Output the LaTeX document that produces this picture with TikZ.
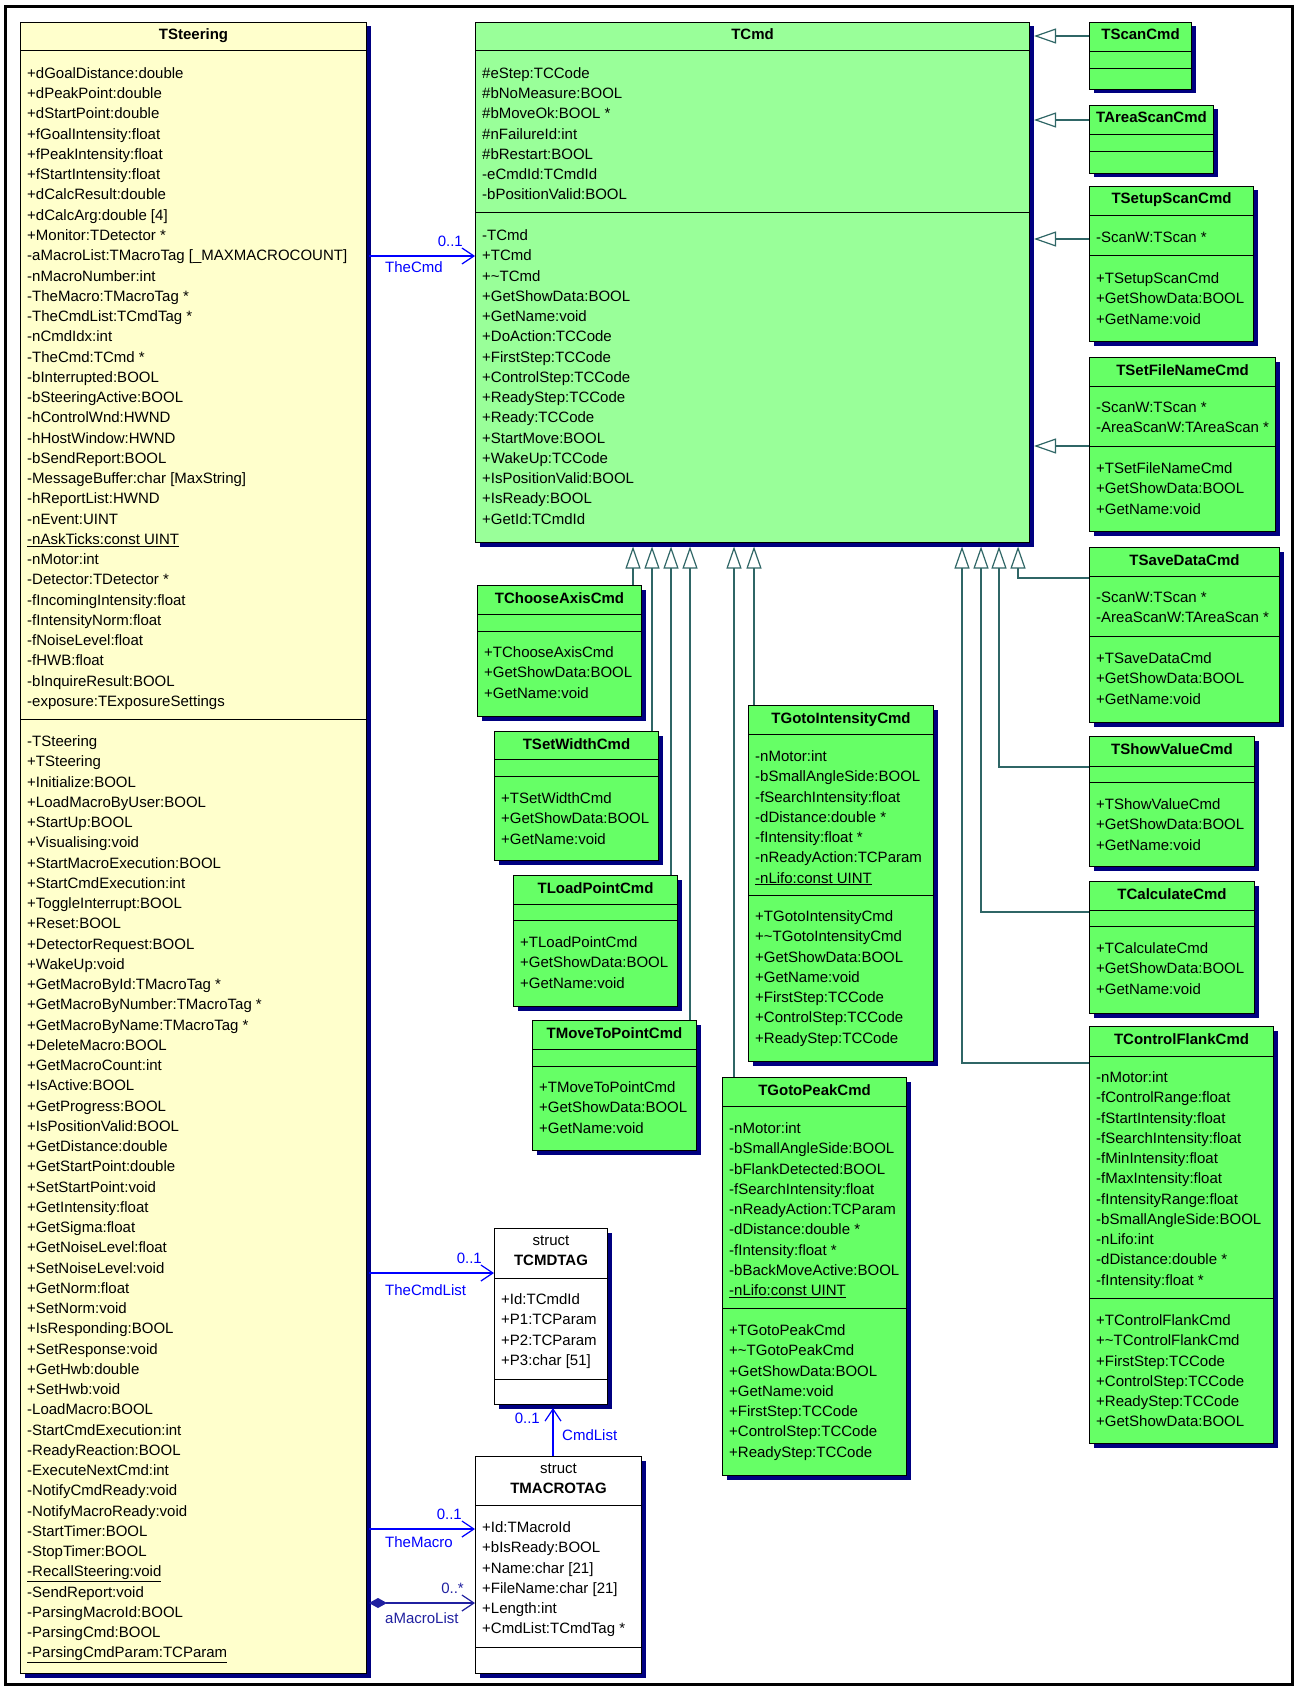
\documentclass[tikz,border=0pt]{standalone}
\usepackage{fontspec}
\setmainfont{Liberation Sans}
\usetikzlibrary{arrows.meta,shadows}

\definecolor{steeryellow}{HTML}{FFFFCC}
\definecolor{cmdgreen}{HTML}{99FF99}
\definecolor{subgreen}{HTML}{66FF66}
\definecolor{shadownavy}{HTML}{000080}
\definecolor{genteal}{HTML}{2F6666}
\definecolor{assocblue}{HTML}{0000FF}
\definecolor{compblue}{HTML}{2020A0}

% class box: name, x, y, width, height, fill, header line, attribute line
\newcommand{\umlclass}[8]{%
  \node[classbox, fill=#6, minimum width=#4, minimum height=#5] (#1) at (#2,#3) {};
  \draw[sepline] ([yshift=-#7pt]#1.north west) -- ([yshift=-#7pt]#1.north east);
  \draw[sepline] ([yshift=-#8pt]#1.north west) -- ([yshift=-#8pt]#1.north east);
}
\newcommand{\umltitle}[2]{\node[title] (#1-t) at ([yshift=-18pt]#1.north) {#2};}
\newcommand{\umlstruct}[2]{%
  \node[member, anchor=base] (#1-s) at ([yshift=-17.5pt]#1.north) {struct};
  \node[title] (#1-t) at ([yshift=-37.5pt]#1.north) {#2};
}
% member rows: prefix, x, y of first row, list
\newcommand{\members}[4]{%
  \foreach \memb [count=\rr from 0] in {#4}
    \node[member] (#1-\rr) at (#2,{#3+5.5+\rr*20.25}) {\memb};
}

\begin{document}
\begin{tikzpicture}[x=1pt, y=-1pt,
    classbox/.style={draw, line width=1pt, rectangle, anchor=north west, inner sep=0pt,
                     drop shadow={shadow xshift=4pt, shadow yshift=-4pt, fill=shadownavy, opacity=1}},
    sepline/.style={line width=1pt},
    member/.style={anchor=base west, inner sep=0pt, font=\fontsize{15}{18}\selectfont},
    title/.style={anchor=base, inner sep=0pt, font=\fontsize{15}{18}\selectfont\bfseries},
    gen/.style={draw=genteal, line width=1.2pt,
                -{Triangle[open, length=22pt, width=15pt, line width=1.2pt]}},
    assoc/.style={draw=assocblue, line width=1.2pt,
                  -{Straight Barb[length=12pt, width=16pt, line width=1.2pt]}},
    compo/.style={draw=compblue, line width=1.2pt,
                  {Diamond[length=18pt, width=10pt]}-{Straight Barb[length=12pt, width=16pt, line width=1.2pt]}},
    alabel/.style={inner sep=0pt, text=assocblue, font=\fontsize{15}{18}\selectfont}]
    \useasboundingbox (0,0) rectangle (1298,1688);
    \draw[line width=3pt] (5,7) rectangle (1292,1684);

    % classes
    \umlclass{tsteering}{20}{22}{346}{1651}{steeryellow}{29}{697}
    \umlclass{tcmd}{475}{22}{554}{520}{cmdgreen}{29}{191}
    \umlclass{tscan}{1089}{22}{102}{67}{subgreen}{30}{47}
    \umlclass{tareascan}{1089}{105}{124}{68}{subgreen}{30}{47}
    \umlclass{tsetupscan}{1089}{186}{164}{155}{subgreen}{30}{70}
    \umlclass{tsetfilename}{1089}{357}{186}{174}{subgreen}{29}{89}
    \umlclass{tsavedata}{1089}{547}{190}{175}{subgreen}{29}{89}
    \umlclass{tshowvalue}{1089}{736}{165}{130}{subgreen}{30}{46}
    \umlclass{tcalculate}{1089}{881}{165}{132}{subgreen}{29}{45}
    \umlclass{tcontrolflank}{1089}{1026}{184}{417}{subgreen}{30}{272}
    \umlclass{tchooseaxis}{477}{585}{164}{131}{subgreen}{29}{46}
    \umlclass{tsetwidth}{494}{731}{164}{129}{subgreen}{28}{45}
    \umlclass{tloadpoint}{513}{875}{164}{131}{subgreen}{29}{45}
    \umlclass{tmovetopoint}{532}{1020}{164}{130}{subgreen}{29}{46}
    \umlclass{tgotointensity}{748}{705}{185}{356}{subgreen}{29}{190}
    \umlclass{tgotopeak}{722}{1077}{184}{398}{subgreen}{29}{231}
    \umlclass{tcmdtag}{494}{1228}{113}{176}{white}{50}{151}
    \umlclass{tmacrotag}{475}{1456}{166}{217}{white}{49}{191}

    % titles
    \umltitle{tsteering}{TSteering}
    \umltitle{tcmd}{TCmd}
    \umltitle{tscan}{TScanCmd}
    \umltitle{tareascan}{TAreaScanCmd}
    \umltitle{tsetupscan}{TSetupScanCmd}
    \umltitle{tsetfilename}{TSetFileNameCmd}
    \umltitle{tsavedata}{TSaveDataCmd}
    \umltitle{tshowvalue}{TShowValueCmd}
    \umltitle{tcalculate}{TCalculateCmd}
    \umltitle{tcontrolflank}{TControlFlankCmd}
    \umltitle{tchooseaxis}{TChooseAxisCmd}
    \umltitle{tsetwidth}{TSetWidthCmd}
    \umltitle{tloadpoint}{TLoadPointCmd}
    \umltitle{tmovetopoint}{TMoveToPointCmd}
    \umltitle{tgotointensity}{TGotoIntensityCmd}
    \umltitle{tgotopeak}{TGotoPeakCmd}
    \umlstruct{tcmdtag}{TCMDTAG}
    \umlstruct{tmacrotag}{TMACROTAG}

    % TSteering
    \members{tsteering-a}{27}{73}{+dGoalDistance:double, +dPeakPoint:double, +dStartPoint:double,
      +fGoalIntensity:float, +fPeakIntensity:float, +fStartIntensity:float, +dCalcResult:double,
      +dCalcArg:double [4], +Monitor:TDetector *, -aMacroList:TMacroTag [\_MAXMACROCOUNT],
      -nMacroNumber:int, -TheMacro:TMacroTag *, -TheCmdList:TCmdTag *, -nCmdIdx:int, -TheCmd:TCmd *,
      -bInterrupted:BOOL, -bSteeringActive:BOOL, -hControlWnd:HWND, -hHostWindow:HWND,
      -bSendReport:BOOL, -MessageBuffer:char [MaxString], -hReportList:HWND, -nEvent:UINT,
      \underline{-nAskTicks:const UINT}, -nMotor:int, -Detector:TDetector *, -fIncomingIntensity:float,
      -fIntensityNorm:float, -fNoiseLevel:float, -fHWB:float, -bInquireResult:BOOL,
      -exposure:TExposureSettings}
    \members{tsteering-o}{27}{741}{-TSteering, +TSteering, +Initialize:BOOL, +LoadMacroByUser:BOOL,
      +StartUp:BOOL, +Visualising:void, +StartMacroExecution:BOOL, +StartCmdExecution:int,
      +ToggleInterrupt:BOOL, +Reset:BOOL, +DetectorRequest:BOOL, +WakeUp:void,
      +GetMacroById:TMacroTag *, +GetMacroByNumber:TMacroTag *, +GetMacroByName:TMacroTag *,
      +DeleteMacro:BOOL, +GetMacroCount:int, +IsActive:BOOL, +GetProgress:BOOL,
      +IsPositionValid:BOOL, +GetDistance:double, +GetStartPoint:double, +SetStartPoint:void,
      +GetIntensity:float, +GetSigma:float, +GetNoiseLevel:float, +SetNoiseLevel:void,
      +GetNorm:float, +SetNorm:void, +IsResponding:BOOL, +SetResponse:void, +GetHwb:double,
      +SetHwb:void, -LoadMacro:BOOL, -StartCmdExecution:int, -ReadyReaction:BOOL,
      -ExecuteNextCmd:int, -NotifyCmdReady:void, -NotifyMacroReady:void, -StartTimer:BOOL,
      -StopTimer:BOOL, \underline{-RecallSteering:void}, -SendReport:void, -ParsingMacroId:BOOL,
      -ParsingCmd:BOOL, \underline{-ParsingCmdParam:TCParam}}

    % TCmd
    \members{tcmd-a}{482}{73}{\#eStep:TCCode, \#bNoMeasure:BOOL, \#bMoveOk:BOOL *, \#nFailureId:int,
      \#bRestart:BOOL, -eCmdId:TCmdId, -bPositionValid:BOOL}
    \members{tcmd-o}{482}{235}{-TCmd, +TCmd, +\textasciitilde TCmd, +GetShowData:BOOL, +GetName:void,
      +DoAction:TCCode, +FirstStep:TCCode, +ControlStep:TCCode, +ReadyStep:TCCode, +Ready:TCCode,
      +StartMove:BOOL, +WakeUp:TCCode, +IsPositionValid:BOOL, +IsReady:BOOL, +GetId:TCmdId}

    % right column
    \members{tsetupscan-a}{1096}{237}{-ScanW:TScan *}
    \members{tsetupscan-o}{1096}{278}{+TSetupScanCmd, +GetShowData:BOOL, +GetName:void}
    \members{tsetfilename-a}{1096}{407}{-ScanW:TScan *, -AreaScanW:TAreaScan *}
    \members{tsetfilename-o}{1096}{468}{+TSetFileNameCmd, +GetShowData:BOOL, +GetName:void}
    \members{tsavedata-a}{1096}{597}{-ScanW:TScan *, -AreaScanW:TAreaScan *}
    \members{tsavedata-o}{1096}{658}{+TSaveDataCmd, +GetShowData:BOOL, +GetName:void}
    \members{tshowvalue-o}{1096}{804}{+TShowValueCmd, +GetShowData:BOOL, +GetName:void}
    \members{tcalculate-o}{1096}{948}{+TCalculateCmd, +GetShowData:BOOL, +GetName:void}
    \members{tcontrolflank-a}{1096}{1077}{-nMotor:int, -fControlRange:float, -fStartIntensity:float,
      -fSearchIntensity:float, -fMinIntensity:float, -fMaxIntensity:float, -fIntensityRange:float,
      -bSmallAngleSide:BOOL, -nLifo:int, -dDistance:double *, -fIntensity:float *}
    \members{tcontrolflank-o}{1096}{1320}{+TControlFlankCmd, +\textasciitilde TControlFlankCmd,
      +FirstStep:TCCode, +ControlStep:TCCode, +ReadyStep:TCCode, +GetShowData:BOOL}

    % lower middle
    \members{tchooseaxis-o}{484}{652}{+TChooseAxisCmd, +GetShowData:BOOL, +GetName:void}
    \members{tsetwidth-o}{501}{798}{+TSetWidthCmd, +GetShowData:BOOL, +GetName:void}
    \members{tloadpoint-o}{520}{942}{+TLoadPointCmd, +GetShowData:BOOL, +GetName:void}
    \members{tmovetopoint-o}{539}{1087}{+TMoveToPointCmd, +GetShowData:BOOL, +GetName:void}
    \members{tgotointensity-a}{755}{756}{-nMotor:int, -bSmallAngleSide:BOOL, -fSearchIntensity:float,
      -dDistance:double *, -fIntensity:float *, -nReadyAction:TCParam, \underline{-nLifo:const UINT}}
    \members{tgotointensity-o}{755}{916}{+TGotoIntensityCmd, +\textasciitilde TGotoIntensityCmd,
      +GetShowData:BOOL, +GetName:void, +FirstStep:TCCode, +ControlStep:TCCode, +ReadyStep:TCCode}
    \members{tgotopeak-a}{729}{1128}{-nMotor:int, -bSmallAngleSide:BOOL, -bFlankDetected:BOOL,
      -fSearchIntensity:float, -nReadyAction:TCParam, -dDistance:double *, -fIntensity:float *,
      -bBackMoveActive:BOOL, \underline{-nLifo:const UINT}}
    \members{tgotopeak-o}{729}{1330}{+TGotoPeakCmd, +\textasciitilde TGotoPeakCmd, +GetShowData:BOOL,
      +GetName:void, +FirstStep:TCCode, +ControlStep:TCCode, +ReadyStep:TCCode}
    \members{tcmdtag-a}{501}{1299}{+Id:TCmdId, +P1:TCParam, +P2:TCParam, +P3:char [51]}
    \members{tmacrotag-a}{482}{1527}{+Id:TMacroId, +bIsReady:BOOL, +Name:char [21],
      +FileName:char [21], +Length:int, +CmdList:TCmdTag *}

    % generalizations
    \foreach \cls/\dx [count=\i] in {tchooseaxis/158, tsetwidth/177, tloadpoint/196,
        tmovetopoint/215, tgotopeak/259, tgotointensity/279} {
        \coordinate (tipL\i) at ([xshift=\dx pt, yshift=-3.5pt]tcmd.south west);
        \draw[gen] (tipL\i |- \cls.north) -- (tipL\i);
    }
    \foreach \cls/\dx/\dy [count=\i] in {tsavedata/543/31, tshowvalue/524/31,
        tcalculate/506/31, tcontrolflank/487/37} {
        \coordinate (tipB\i) at ([xshift=\dx pt, yshift=-3.5pt]tcmd.south west);
        \draw[gen] ([yshift=-\dy pt]\cls.north west) -| (tipB\i);
    }
    \coordinate (tcmdR) at ([xshift=4pt]tcmd.east);
    \foreach \cls/\dy in {tscan/14, tareascan/15, tsetupscan/53, tsetfilename/89} {
        \coordinate (g\cls) at ([yshift=-\dy pt]\cls.north west);
        \draw[gen] (g\cls) -- (g\cls -| tcmdR);
    }

    % associations
    \coordinate (tsR) at ([xshift=2pt]tsteering.east);
    \coordinate (aCmd) at ([yshift=-234pt]tcmd.north west);
    \coordinate (aCmdList) at ([yshift=-45pt]tcmdtag.north west);
    \coordinate (aMacro) at ([yshift=-73pt]tmacrotag.north west);
    \coordinate (aMacroList) at ([yshift=-147pt]tmacrotag.north west);
    \coordinate (aCmdTag) at ([xshift=2pt, yshift=-3pt]tcmdtag.south);
    \draw[assoc] (aCmd -| tsR) -- (aCmd);
    \draw[assoc] (aCmdList -| tsR) -- (aCmdList);
    \draw[assoc] (aMacro -| tsR) -- (aMacro);
    \draw[compo] (aMacroList -| tsR) -- (aMacroList);
    \draw[assoc] (aCmdTag |- tmacrotag.north) -- (aCmdTag);

    % association labels
    \node[alabel, anchor=base east] (m1) at (463,246.5) {0..1};
    \node[alabel, anchor=base west] (r1) at (385,272.5) {TheCmd};
    \node[alabel, anchor=base east] (m2) at (482,1263.5) {0..1};
    \node[alabel, anchor=base west] (r2) at (385,1295.5) {TheCmdList};
    \node[alabel, anchor=base east] (m3) at (540,1423.5) {0..1};
    \node[alabel, anchor=base west] (r3) at (562,1440.5) {CmdList};
    \node[alabel, anchor=base east] (m4) at (462,1519.5) {0..1};
    \node[alabel, anchor=base west] (r4) at (385,1547.5) {TheMacro};
    \node[alabel, text=compblue, anchor=base east] (m5) at (464,1593.5) {0..*};
    \node[alabel, text=compblue, anchor=base west] (r5) at (385,1623.5) {aMacroList};
\end{tikzpicture}
\end{document}
